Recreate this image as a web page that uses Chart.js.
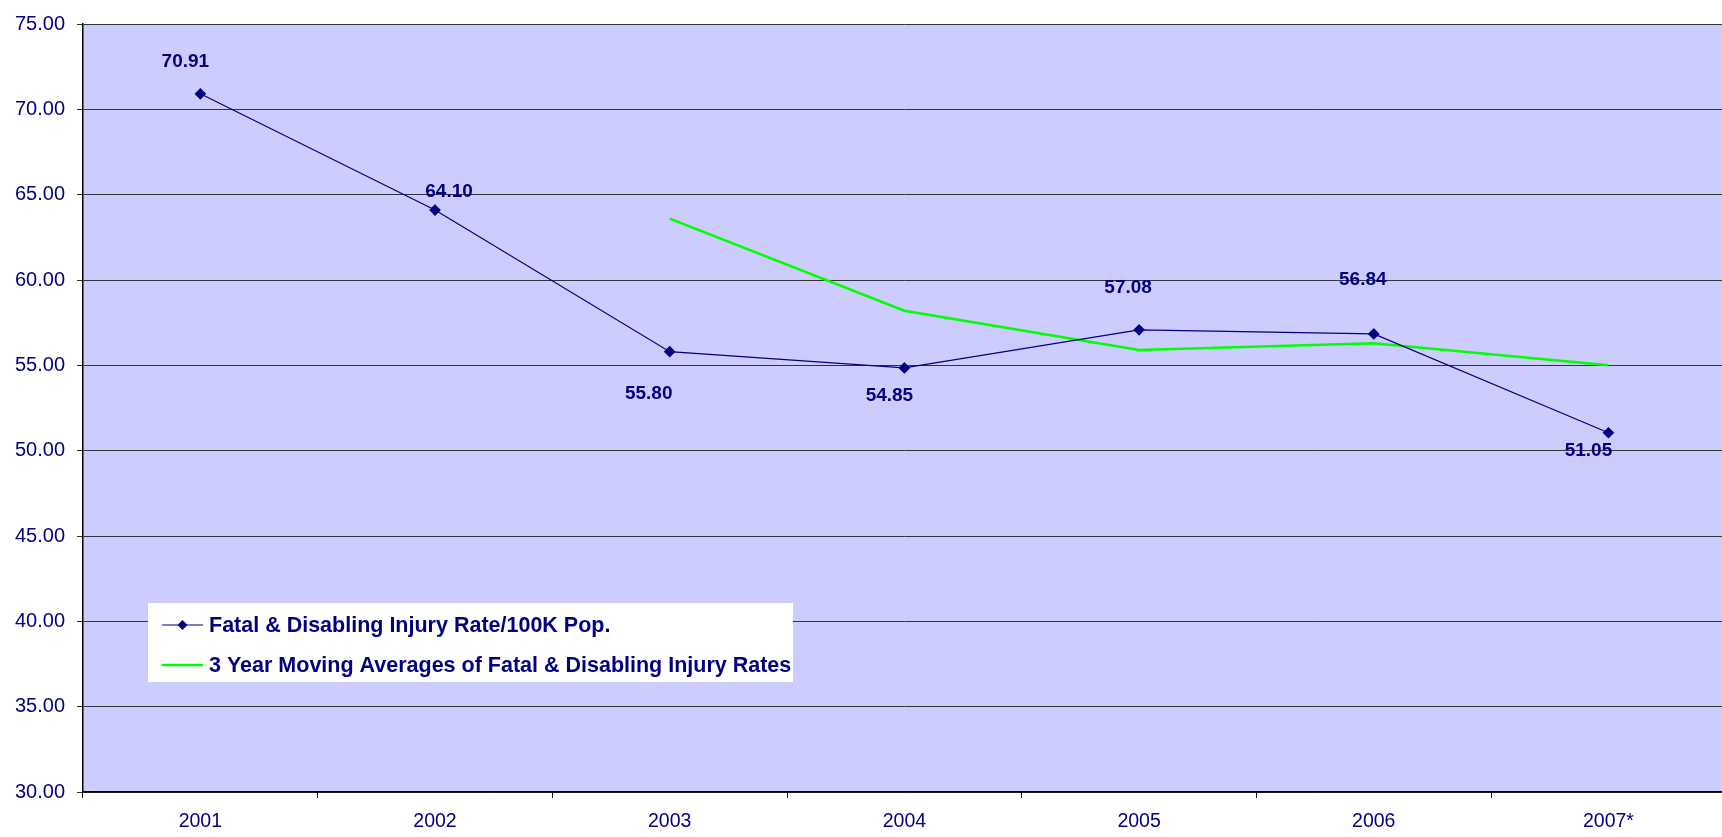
<!DOCTYPE html>
<html>
<head>
<meta charset="utf-8">
<script src="https://cdn.jsdelivr.net/npm/chart.js@4.4.1/dist/chart.umd.min.js"></script>
<style>
  html, body { margin: 0; padding: 0; background: #fff; overflow: hidden; }
  #wrap { width: 1732px; height: 837px; }
</style>
</head>
<body>
<div id="wrap"><canvas id="chart" width="1732" height="837"></canvas></div>
<script>
// data
const years = ["2001", "2002", "2003", "2004", "2005", "2006", "2007*"];
const injuryRates = [70.91, 64.10, 55.80, 54.85, 57.08, 56.84, 51.05];
const movingAverages = [null, null, 63.60, 58.20, 55.90, 56.30, 55.00];
const yTicks = [30, 35, 40, 45, 50, 55, 60, 65, 70, 75];

// where each value label sits, relative to its point (px)
const labelShift = [[-15, -32], [14, -18], [-21, 42], [-15, 28], [-11, -42], [-11, -54], [-20, 18]];

const NAVY = '#000080';
const FONT = "'Liberation Sans', Arial, sans-serif";

// lilac plot area
const plotBackground = {
    id: 'plotBackground',
    beforeDraw(chart) {
        const a = chart.chartArea;
        const ctx = chart.ctx;
        ctx.save();
        ctx.fillStyle = '#CCCCFF';
        ctx.fillRect(a.left, a.top, a.right - a.left, a.bottom - a.top);
        ctx.restore();
    }
};

// numbers above / below the diamonds
const valueLabels = {
    id: 'valueLabels',
    afterDatasetsDraw(chart) {
        const ctx = chart.ctx;
        const meta = chart.getDatasetMeta(0);
        ctx.save();
        ctx.font = 'bold 19px ' + FONT;
        ctx.fillStyle = NAVY;
        ctx.textAlign = 'center';
        ctx.textBaseline = 'middle';
        meta.data.forEach((pt, i) => {
            const v = chart.data.datasets[0].data[i];
            ctx.fillText(v.toFixed(2), pt.x + labelShift[i][0], pt.y + labelShift[i][1]);
        });
        ctx.restore();
    }
};

// white legend box inside the plot
const boxLegend = {
    id: 'boxLegend',
    afterDraw(chart) {
        const ctx = chart.ctx;
        ctx.save();
        ctx.fillStyle = '#ffffff';
        ctx.fillRect(148, 603, 645, 79);
        ctx.font = 'bold 21.5px ' + FONT;
        ctx.textBaseline = 'middle';
        ctx.textAlign = 'left';
        const rows = [625, 665];
        chart.data.datasets.forEach((ds, i) => {
            const y = rows[i];
            ctx.strokeStyle = ds.borderColor;
            ctx.lineWidth = ds.borderWidth;
            ctx.beginPath();
            ctx.moveTo(162, y);
            ctx.lineTo(203, y);
            ctx.stroke();
            if (ds.pointRadius > 0) {
                ctx.fillStyle = ds.pointBackgroundColor;
                ctx.beginPath();
                ctx.moveTo(182.5, y - 5);
                ctx.lineTo(187.5, y);
                ctx.lineTo(182.5, y + 5);
                ctx.lineTo(177.5, y);
                ctx.closePath();
                ctx.fill();
            }
            ctx.fillStyle = NAVY;
            ctx.fillText(ds.label, 209, y + 1);
        });
        ctx.restore();
    }
};

new Chart(document.getElementById('chart'), {
    type: 'line',
    data: {
        labels: years,
        datasets: [{
            label: 'Fatal & Disabling Injury Rate/100K Pop.',
            data: injuryRates,
            borderColor: NAVY,
            borderWidth: 1.2,
            pointStyle: 'rectRot',
            pointRadius: 5,
            pointBackgroundColor: NAVY,
            pointBorderColor: NAVY,
            tension: 0
        }, {
            label: '3 Year Moving Averages of Fatal & Disabling Injury Rates',
            data: movingAverages,
            borderColor: '#00FF00',
            borderWidth: 2.5,
            pointRadius: 0,
            spanGaps: false,
            tension: 0
        }]
    },
    options: {
        responsive: false,
        animation: false,
        layout: { padding: { top: 17, right: 1, left: 0, bottom: 0 } },
        plugins: {
            legend: { display: false },
            tooltip: { enabled: false }
        },
        scales: {
            x: {
                offset: true,
                grid: {
                    offset: true,
                    drawOnChartArea: false,
                    drawTicks: true,
                    tickLength: 6,
                    color: '#000'
                },
                border: { color: '#000', width: 1.5 },
                ticks: {
                    color: NAVY,
                    font: { family: FONT, size: 19.5 },
                    padding: 12,
                    maxRotation: 0
                },
                afterFit(scale) { scale.height = 45; }
            },
            y: {
                min: 30,
                max: 75,
                afterBuildTicks(scale) { scale.ticks = yTicks.map(v => ({ value: v })); },
                grid: {
                    color: '#333',
                    lineWidth: 1,
                    tickLength: 6
                },
                border: { color: '#000', width: 1.5 },
                ticks: {
                    color: NAVY,
                    font: { family: FONT, size: 20 },
                    padding: 12,
                    callback: v => Number(v).toFixed(2)
                },
                afterFit(scale) { scale.width = 83; }
            }
        }
    },
    plugins: [plotBackground, valueLabels, boxLegend]
});
</script>
</body>
</html>
